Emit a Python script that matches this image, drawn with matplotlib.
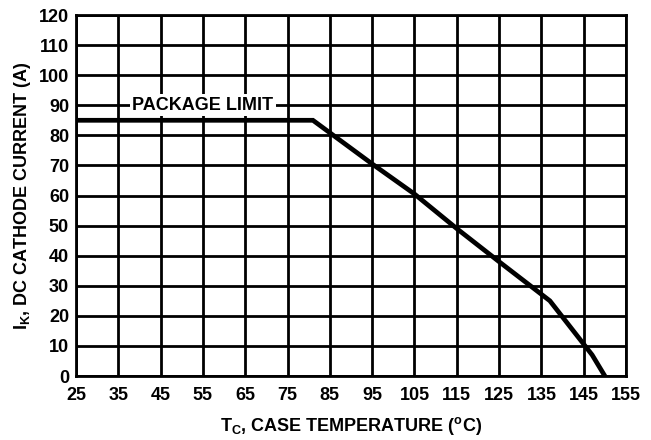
import matplotlib
matplotlib.use("Agg")
import matplotlib.pyplot as plt

# Data
temp_c = [25, 81, 95, 105, 115, 125, 137, 147, 150]
current_a = [85, 85, 70.5, 60.5, 49, 38, 25, 7, 0]
x_ticks = list(range(25, 156, 10))
y_ticks = list(range(0, 121, 10))

plt.rcParams['font.family'] = ['Liberation Sans', 'DejaVu Sans']
plt.rcParams['font.weight'] = 'bold'
plt.rcParams['mathtext.fontset'] = 'custom'
plt.rcParams['mathtext.rm'] = 'Liberation Sans:bold'
plt.rcParams['mathtext.it'] = 'Liberation Sans:bold'
plt.rcParams['mathtext.bf'] = 'Liberation Sans:bold'

fig = plt.figure(figsize=(6.51, 4.40), dpi=100)
ax = fig.add_axes([76/651, 64/440, 550/651, 361/440])

ax.set_xlim(25, 155)
ax.set_ylim(0, 120)
ax.set_xticks(x_ticks)
ax.set_yticks(y_ticks)
ax.grid(True, color='black', linewidth=2.0)
ax.set_axisbelow(True)
for s in ax.spines.values():
    s.set_linewidth(2.0)
ax.tick_params(axis='x', length=0, pad=8, labelsize=13)
ax.tick_params(axis='y', length=0, pad=5, labelsize=13)
for lbl in ax.get_xticklabels() + ax.get_yticklabels():
    lbl.set_fontweight('bold')

ax.plot(temp_c, current_a, color='black', linewidth=3.4, solid_joinstyle='miter', zorder=3)

ax.text(55, 90, 'PACKAGE LIMIT', ha='center', va='center', fontsize=13,
        fontweight='bold', zorder=4,
        bbox=dict(facecolor='white', edgecolor='none', pad=2.0))

ax.set_xlabel(r'$\mathregular{T_C}$, CASE TEMPERATURE ($\mathregular{^oC}$)',
              fontsize=13, fontweight='bold', labelpad=8)
ax.set_ylabel(r'$\mathregular{I_K}$, DC CATHODE CURRENT (A)',
              fontsize=13, fontweight='bold', labelpad=4)

fig.savefig('out.png', dpi=100)
